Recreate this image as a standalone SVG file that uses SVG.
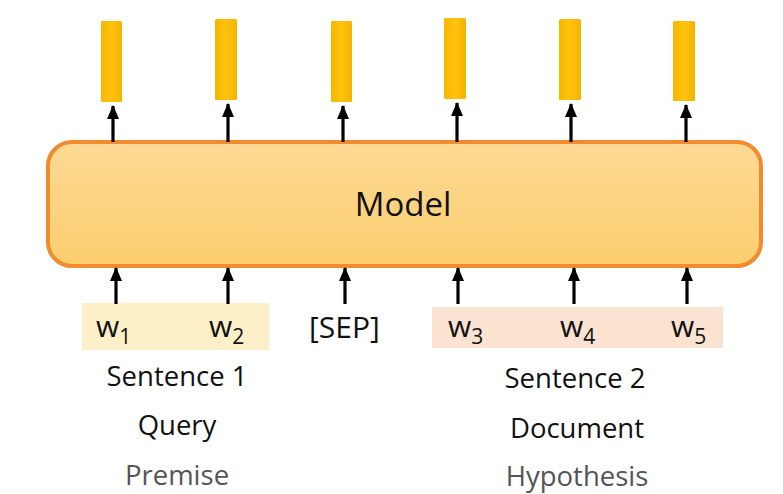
<svg xmlns="http://www.w3.org/2000/svg" width="783" height="494" viewBox="0 0 783 494">
<defs>
<linearGradient id="boxg" x1="0" y1="0" x2="0" y2="1">
<stop offset="0" stop-color="#FDDA95"/>
<stop offset="1" stop-color="#FCCD6E"/>
</linearGradient>
<linearGradient id="barg" x1="0" y1="0" x2="1" y2="0">
<stop offset="0" stop-color="#F5B700"/>
<stop offset="0.5" stop-color="#FFC20E"/>
<stop offset="1" stop-color="#F2B400"/>
</linearGradient>
<marker id="ah" viewBox="0 0 14 12" refX="13" refY="6" markerWidth="14" markerHeight="12" markerUnits="userSpaceOnUse" orient="auto">
<path d="M0,0 L14,6 L0,12 Z" fill="#000"/>
</marker>
</defs>
<style>
.bar{fill:url(#barg);}
.arr{stroke:#000;stroke-width:3.2;fill:none;}
.lbl{font-family:"Open Sans","Liberation Sans",sans-serif;fill:#111;}
.w{font-size:30px;}
.sub{font-size:21px;}
.cap{font-size:27.5px;text-anchor:middle;}
.gray{fill:#555;}
</style>
<rect width="783" height="494" fill="#fff"/>
<g id="highlights">
<rect x="82" y="303" width="187" height="47" fill="#FDF0C9"/>
<rect x="432" y="307" width="291" height="41" fill="#FBE3D2"/>
</g>
<g id="outputs">
<rect class="bar" x="101" y="21" width="21" height="81" rx="1.5"/>
<rect class="bar" x="215" y="19" width="22" height="81" rx="1.5"/>
<rect class="bar" x="331" y="21" width="21" height="81" rx="1.5"/>
<rect class="bar" x="444" y="18" width="22" height="81" rx="1.5"/>
<rect class="bar" x="559" y="19" width="22" height="81" rx="1.5"/>
<rect class="bar" x="673" y="21" width="22" height="80" rx="1.5"/>
</g>
<g id="model">
<rect x="48" y="142" width="713" height="124" rx="24" fill="url(#boxg)" stroke="#F28A2E" stroke-width="4"/>
<text class="lbl" x="403" y="216" font-size="33" text-anchor="middle">Model</text>
</g>
<g id="connectors">
<path class="arr" d="M113,142 V106" marker-end="url(#ah)"/>
<path class="arr" d="M228,142 V104" marker-end="url(#ah)"/>
<path class="arr" d="M343,142 V106" marker-end="url(#ah)"/>
<path class="arr" d="M457,142 V103" marker-end="url(#ah)"/>
<path class="arr" d="M571,142 V104" marker-end="url(#ah)"/>
<path class="arr" d="M686,142 V105" marker-end="url(#ah)"/>
<path class="arr" d="M116,304 V268" marker-end="url(#ah)"/>
<path class="arr" d="M228,304 V268" marker-end="url(#ah)"/>
<path class="arr" d="M345,304 V268" marker-end="url(#ah)"/>
<path class="arr" d="M458,304 V268" marker-end="url(#ah)"/>
<path class="arr" d="M574,304 V268" marker-end="url(#ah)"/>
<path class="arr" d="M687,304 V268" marker-end="url(#ah)"/>
</g>
<g id="tokens">
<text class="lbl w" x="96" y="337">w<tspan class="sub" dy="7">1</tspan></text>
<text class="lbl w" x="209" y="337">w<tspan class="sub" dy="7">2</tspan></text>
<text class="lbl w" x="309" y="338">[SEP]</text>
<text class="lbl w" x="448" y="337">w<tspan class="sub" dy="7">3</tspan></text>
<text class="lbl w" x="560" y="337">w<tspan class="sub" dy="7">4</tspan></text>
<text class="lbl w" x="671" y="337">w<tspan class="sub" dy="7">5</tspan></text>
</g>
<g id="captions">
<text class="lbl cap" x="177" y="386">Sentence 1</text>
<text class="lbl cap" x="177" y="435">Query</text>
<text class="lbl cap gray" x="177" y="485">Premise</text>
<text class="lbl cap" x="575" y="388">Sentence 2</text>
<text class="lbl cap" x="577" y="438">Document</text>
<text class="lbl cap gray" x="577" y="486">Hypothesis</text>
</g>
</svg>
